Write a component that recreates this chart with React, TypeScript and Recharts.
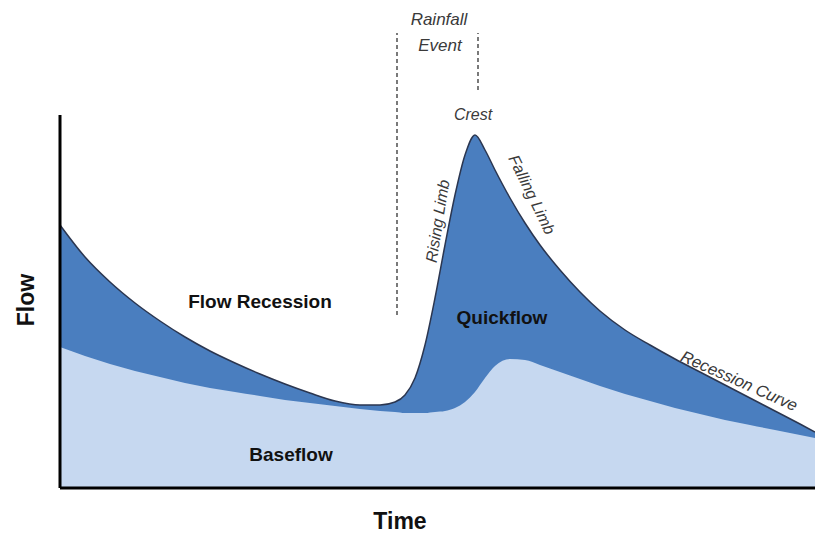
import React from "react";
import { ComposedChart, Area, XAxis, YAxis, ReferenceLine } from "recharts";

// time positions (arbitrary units along the time axis)
const timeSteps = [0, 25, 50, 75, 100, 125, 150, 175, 200, 225, 250, 275, 300, 320, 335, 345, 355, 365, 375, 385, 395, 405, 415, 425, 435, 450, 465, 480, 500, 520, 540, 565, 590, 615, 640, 665, 690, 715, 740, 755];
// total flow (baseflow + quickflow)
const totalFlow = [263, 231, 206, 185, 167, 151, 137, 125, 114, 104, 95, 87, 83, 83, 86, 93, 110, 143, 190, 243, 293, 333, 353, 338, 318, 290, 265, 243, 218, 196, 177, 158, 143, 129, 116, 103, 90, 77, 64, 56];
// baseflow
const baseFlow = [141, 132, 124, 117, 111, 105, 100, 96, 92, 88, 85, 82, 79, 77, 76, 75, 75, 75, 76, 77, 80, 86, 96, 110, 122, 129, 128, 123, 116, 109, 102, 94, 87, 80, 74, 68, 63, 58, 53, 50];

const data = timeSteps.map((t, i) => ({ t, total: totalFlow[i], base: baseFlow[i] }));

const font = "Arial, 'Liberation Sans', sans-serif";
const italic = { fontFamily: font, fontStyle: "italic" as const, fill: "#3a3a3a" };
const bold = { fontFamily: font, fontWeight: 700, fill: "#111" };

export default function App() {
  return (
    <div style={{ position: "absolute", left: 0, top: 0, width: 815, height: 533, background: "#fff" }}>
      <ComposedChart width={815} height={533} data={data} margin={{ top: 115, right: 0, bottom: 45, left: 60 }}>
        <XAxis dataKey="t" type="number" domain={[0, 755]} hide />
        <YAxis type="number" domain={[0, 373]} hide />
        <Area type="monotone" dataKey="total" fill="#4a7ebf" fillOpacity={1} stroke="#2b3650" strokeWidth={1.5} isAnimationActive={false} />
        <Area type="monotone" dataKey="base" fill="#c6d8f0" fillOpacity={1} stroke="none" isAnimationActive={false} />
        <ReferenceLine segment={[{ x: 337, y: 173 }, { x: 337, y: 455 }]} ifOverflow="visible" stroke="#333" strokeWidth={1.3} strokeDasharray="4 3" />
        <ReferenceLine segment={[{ x: 418, y: 398 }, { x: 418, y: 455 }]} ifOverflow="visible" stroke="#333" strokeWidth={1.3} strokeDasharray="4 3" />
        <ReferenceLine segment={[{ x: 0, y: 0 }, { x: 0, y: 373 }]} ifOverflow="visible" stroke="#000" strokeWidth={3} />
        <ReferenceLine segment={[{ x: 0, y: 0 }, { x: 755, y: 0 }]} ifOverflow="visible" stroke="#000" strokeWidth={3} />
      </ComposedChart>
      <svg width={815} height={533} style={{ position: "absolute", left: 0, top: 0, pointerEvents: "none" }}>
        <text x={439} y={25} textAnchor="middle" {...italic} fontSize={17}>Rainfall</text>
        <text x={440} y={51} textAnchor="middle" {...italic} fontSize={17}>Event</text>
        <text x={473} y={120} textAnchor="middle" {...italic} fontSize={16}>Crest</text>
        <text x={443} y={222} textAnchor="middle" transform="rotate(-81 443 222)" {...italic} fontSize={16}>Rising Limb</text>
        <text x={527} y={197} textAnchor="middle" transform="rotate(64 527 197)" {...italic} fontSize={16}>Falling Limb</text>
        <text x={737} y={386} textAnchor="middle" transform="rotate(24 737 386)" {...italic} fontSize={16.5}>Recession Curve</text>
        <text x={260} y={308} textAnchor="middle" {...bold} fontSize={19}>Flow Recession</text>
        <text x={502} y={324} textAnchor="middle" {...bold} fontSize={19}>Quickflow</text>
        <text x={291} y={461} textAnchor="middle" {...bold} fontSize={19}>Baseflow</text>
        <text x={400} y={529} textAnchor="middle" {...bold} fontSize={23}>Time</text>
        <text x={34} y={300} textAnchor="middle" transform="rotate(-90 34 300)" {...bold} fontSize={23}>Flow</text>
      </svg>
    </div>
  );
}
